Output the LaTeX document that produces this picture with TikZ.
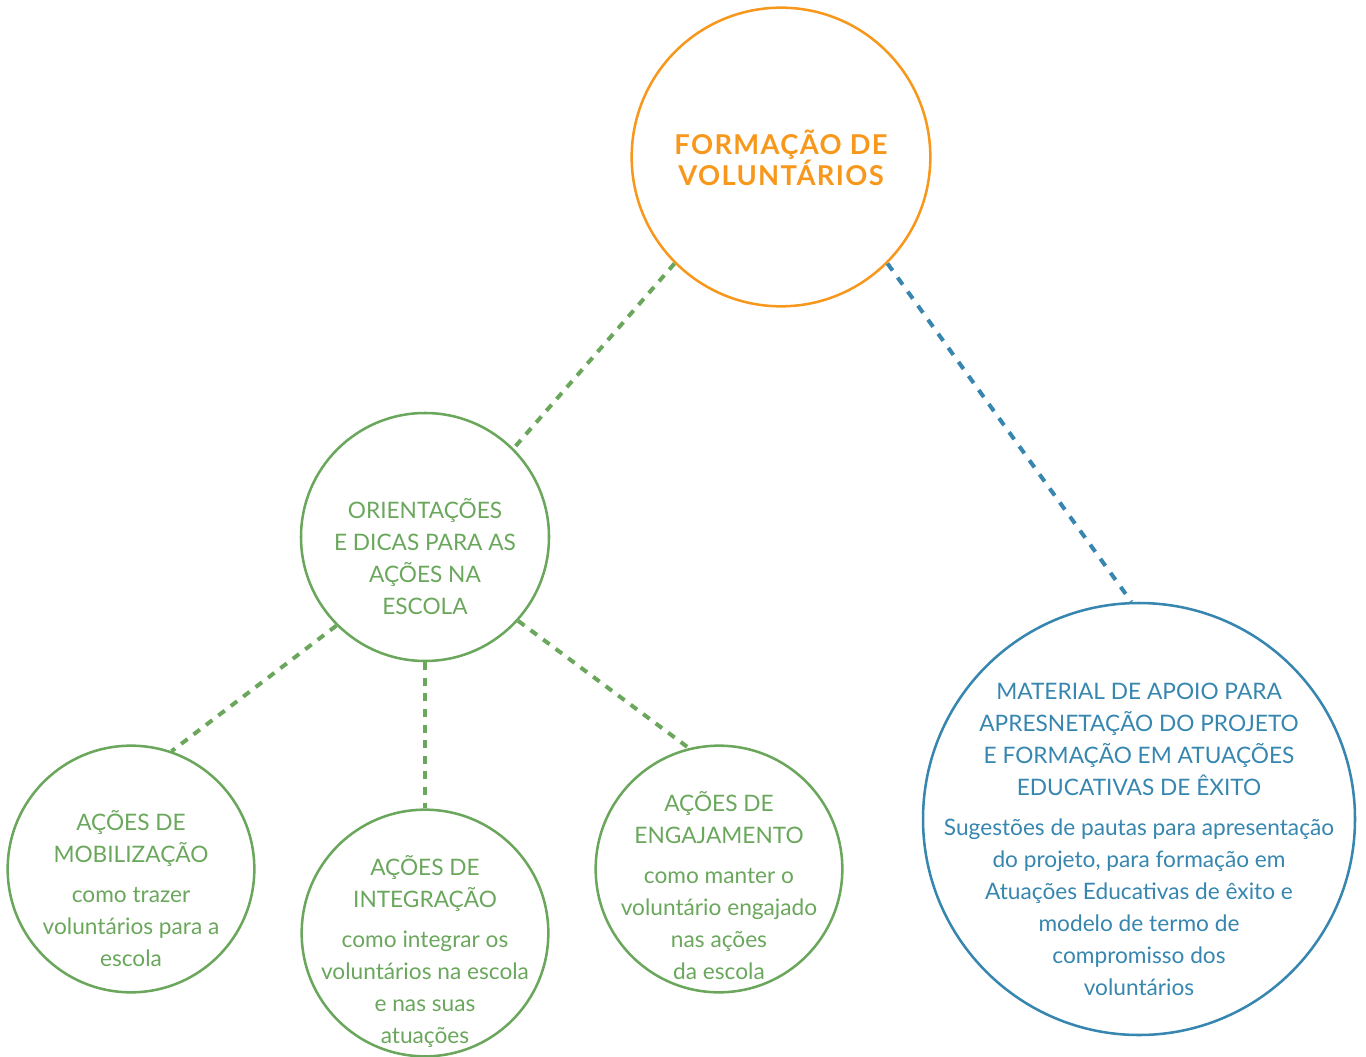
\documentclass[tikz,border=0pt]{standalone}
\usepackage{fontspec}
\setmainfont{Lato}
\definecolor{laranja}{HTML}{F7981D}
\definecolor{verde}{HTML}{6AA75C}
\definecolor{azul}{HTML}{3686B0}
\begin{document}
\begin{tikzpicture}[x=0.75pt,y=-0.75pt,
    bola/.style={circle,draw,line width=1.9pt,inner sep=0pt},
    texto/.style={align=center,font=\fontsize{17}{24}\selectfont},
    ligacao/.style={line width=3pt,dash pattern=on 6pt off 5.7pt}]
  \useasboundingbox (0,0) rectangle (1366,1056);
  \node[bola,laranja,minimum size=224pt] (form) at (781,157) {};
  \node[bola,verde,minimum size=186pt] (orie) at (425,537) {};
  \node[bola,verde,minimum size=185pt] (mobi) at (131,869) {};
  \node[bola,verde,minimum size=185pt] (inte) at (425,933) {};
  \node[bola,verde,minimum size=185pt] (enga) at (719,869) {};
  \node[bola,azul,minimum size=324pt] (mate) at (1139,819) {};
  \node[align=center,laranja,font=\fontsize{20.5}{23.25}\selectfont\bfseries\addfontfeatures{LetterSpace=5}] (form-t) at (781,158) {FORMAÇÃO DE\\VOLUNTÁRIOS};
  \node[texto,verde] (orie-t) at (425,557) {ORIENTAÇÕES\\E DICAS PARA AS\\AÇÕES NA\\ESCOLA};
  \node[texto,verde] (mobi-t) at (131,889) {AÇÕES DE\\MOBILIZAÇÃO\\[6pt]como trazer\\voluntários para a\\escola};
  \node[texto,verde] (inte-t) at (425,951) {AÇÕES DE\\INTEGRAÇÃO\\[6pt]como integrar os\\voluntários na escola\\e nas suas\\atuações};
  \node[texto,verde] (enga-t) at (719,886) {AÇÕES DE\\ENGAJAMENTO\\[6pt]como manter o\\voluntário engajado\\nas ações\\da escola};
  \node[texto,azul] (mate-t) at (1139,839) {MATERIAL DE APOIO PARA\\APRESNETAÇÃO DO PROJETO\\E FORMAÇÃO EM ATUAÇÕES\\EDUCATIVAS DE ÊXITO\\[6pt]Sugestões de pautas para apresentação\\do projeto, para formação em\\Atuações Educativas de êxito e\\modelo de termo de\\compromisso dos\\voluntários};
  \draw[ligacao,verde] (form.225) -- (orie.45);
  \draw[ligacao,azul,dash pattern=on 6.5pt off 6.5pt] (form.-45) -- (mate.92);
  \draw[ligacao,verde] (orie.225) -- (mobi.71);
  \draw[ligacao,verde] (orie.south) -- (inte.north);
  \draw[ligacao,verde] (orie.-42) -- (enga.104);
\end{tikzpicture}
\end{document}
